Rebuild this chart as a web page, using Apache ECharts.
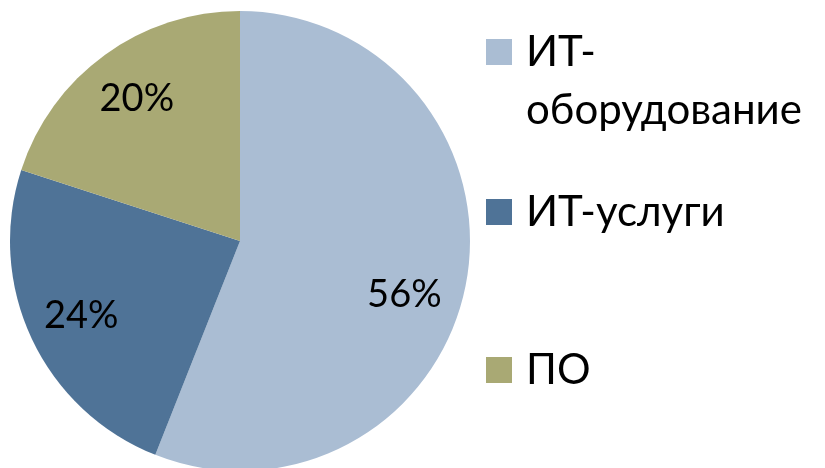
<!DOCTYPE html>
<html><head><meta charset="utf-8">
<script src="https://cdn.jsdelivr.net/npm/echarts@6/dist/echarts.min.js"></script>
<style>html,body{margin:0;padding:0;background:#fff}#c{width:825px;height:468px}</style>
</head><body><div id="c"></div>
<script>
const categories = ['ИТ-оборудование', 'ИТ-услуги', 'ПО'];
const values = [56, 24, 20];
const colors = ['#AABDD3', '#4F7397', '#A9A974'];

const FONT = 'Lato, "Open Sans", sans-serif';
const data = categories.map((n, i) => ({ name: n, value: values[i], itemStyle: { color: colors[i] } }));
const LH = 58;
// long names wrap after the hyphen; a leading blank line keeps the icon level with the first line
const wrap = n => n.length > 10 ? ' \n' + n.replace('-', '-\n') : n;
const legendTops = [-35, 183, 341];
// label nudges (px) to mimic the original's best-fit placement
const labelOffsets = [[-8, 21], [0, 0], [0, 0]];

const chart = echarts.init(document.getElementById('c'), null, { renderer: 'canvas' });
chart.setOption({
  animation: false,
  legend: categories.map((n, i) => ({
    left: 486,
    top: legendTops[i],
    padding: 0,
    orient: 'vertical',
    itemWidth: 26,
    itemHeight: 26,
    icon: 'rect',
    selectedMode: false,
    formatter: wrap,
    textStyle: {
      fontFamily: FONT, fontSize: 42, color: '#000', lineHeight: LH,
      padding: [0, 0, 0, 9]
    },
    data: [n]
  })),
  series: [
    {
      type: 'pie',
      center: [240, 241],
      radius: 230,
      startAngle: 90,
      clockwise: true,
      silent: true,
      label: { show: false },
      labelLine: { show: false },
      itemStyle: { borderWidth: 0 },
      data: data
    },
    {
      type: 'pie',
      center: [240, 241],
      radius: [115, 230],
      startAngle: 90,
      clockwise: true,
      silent: true,
      itemStyle: { color: 'rgba(0,0,0,0)', borderWidth: 0 },
      label: {
        show: true, position: 'inside',
        fontFamily: FONT, fontSize: 38, color: '#000',
        formatter: p => Math.round(p.percent) + '%'
      },
      labelLine: { show: false },
      data: categories.map((n, i) => ({ name: n, value: values[i], label: { offset: labelOffsets[i] } }))
    }
  ]
});
</script></body></html>
